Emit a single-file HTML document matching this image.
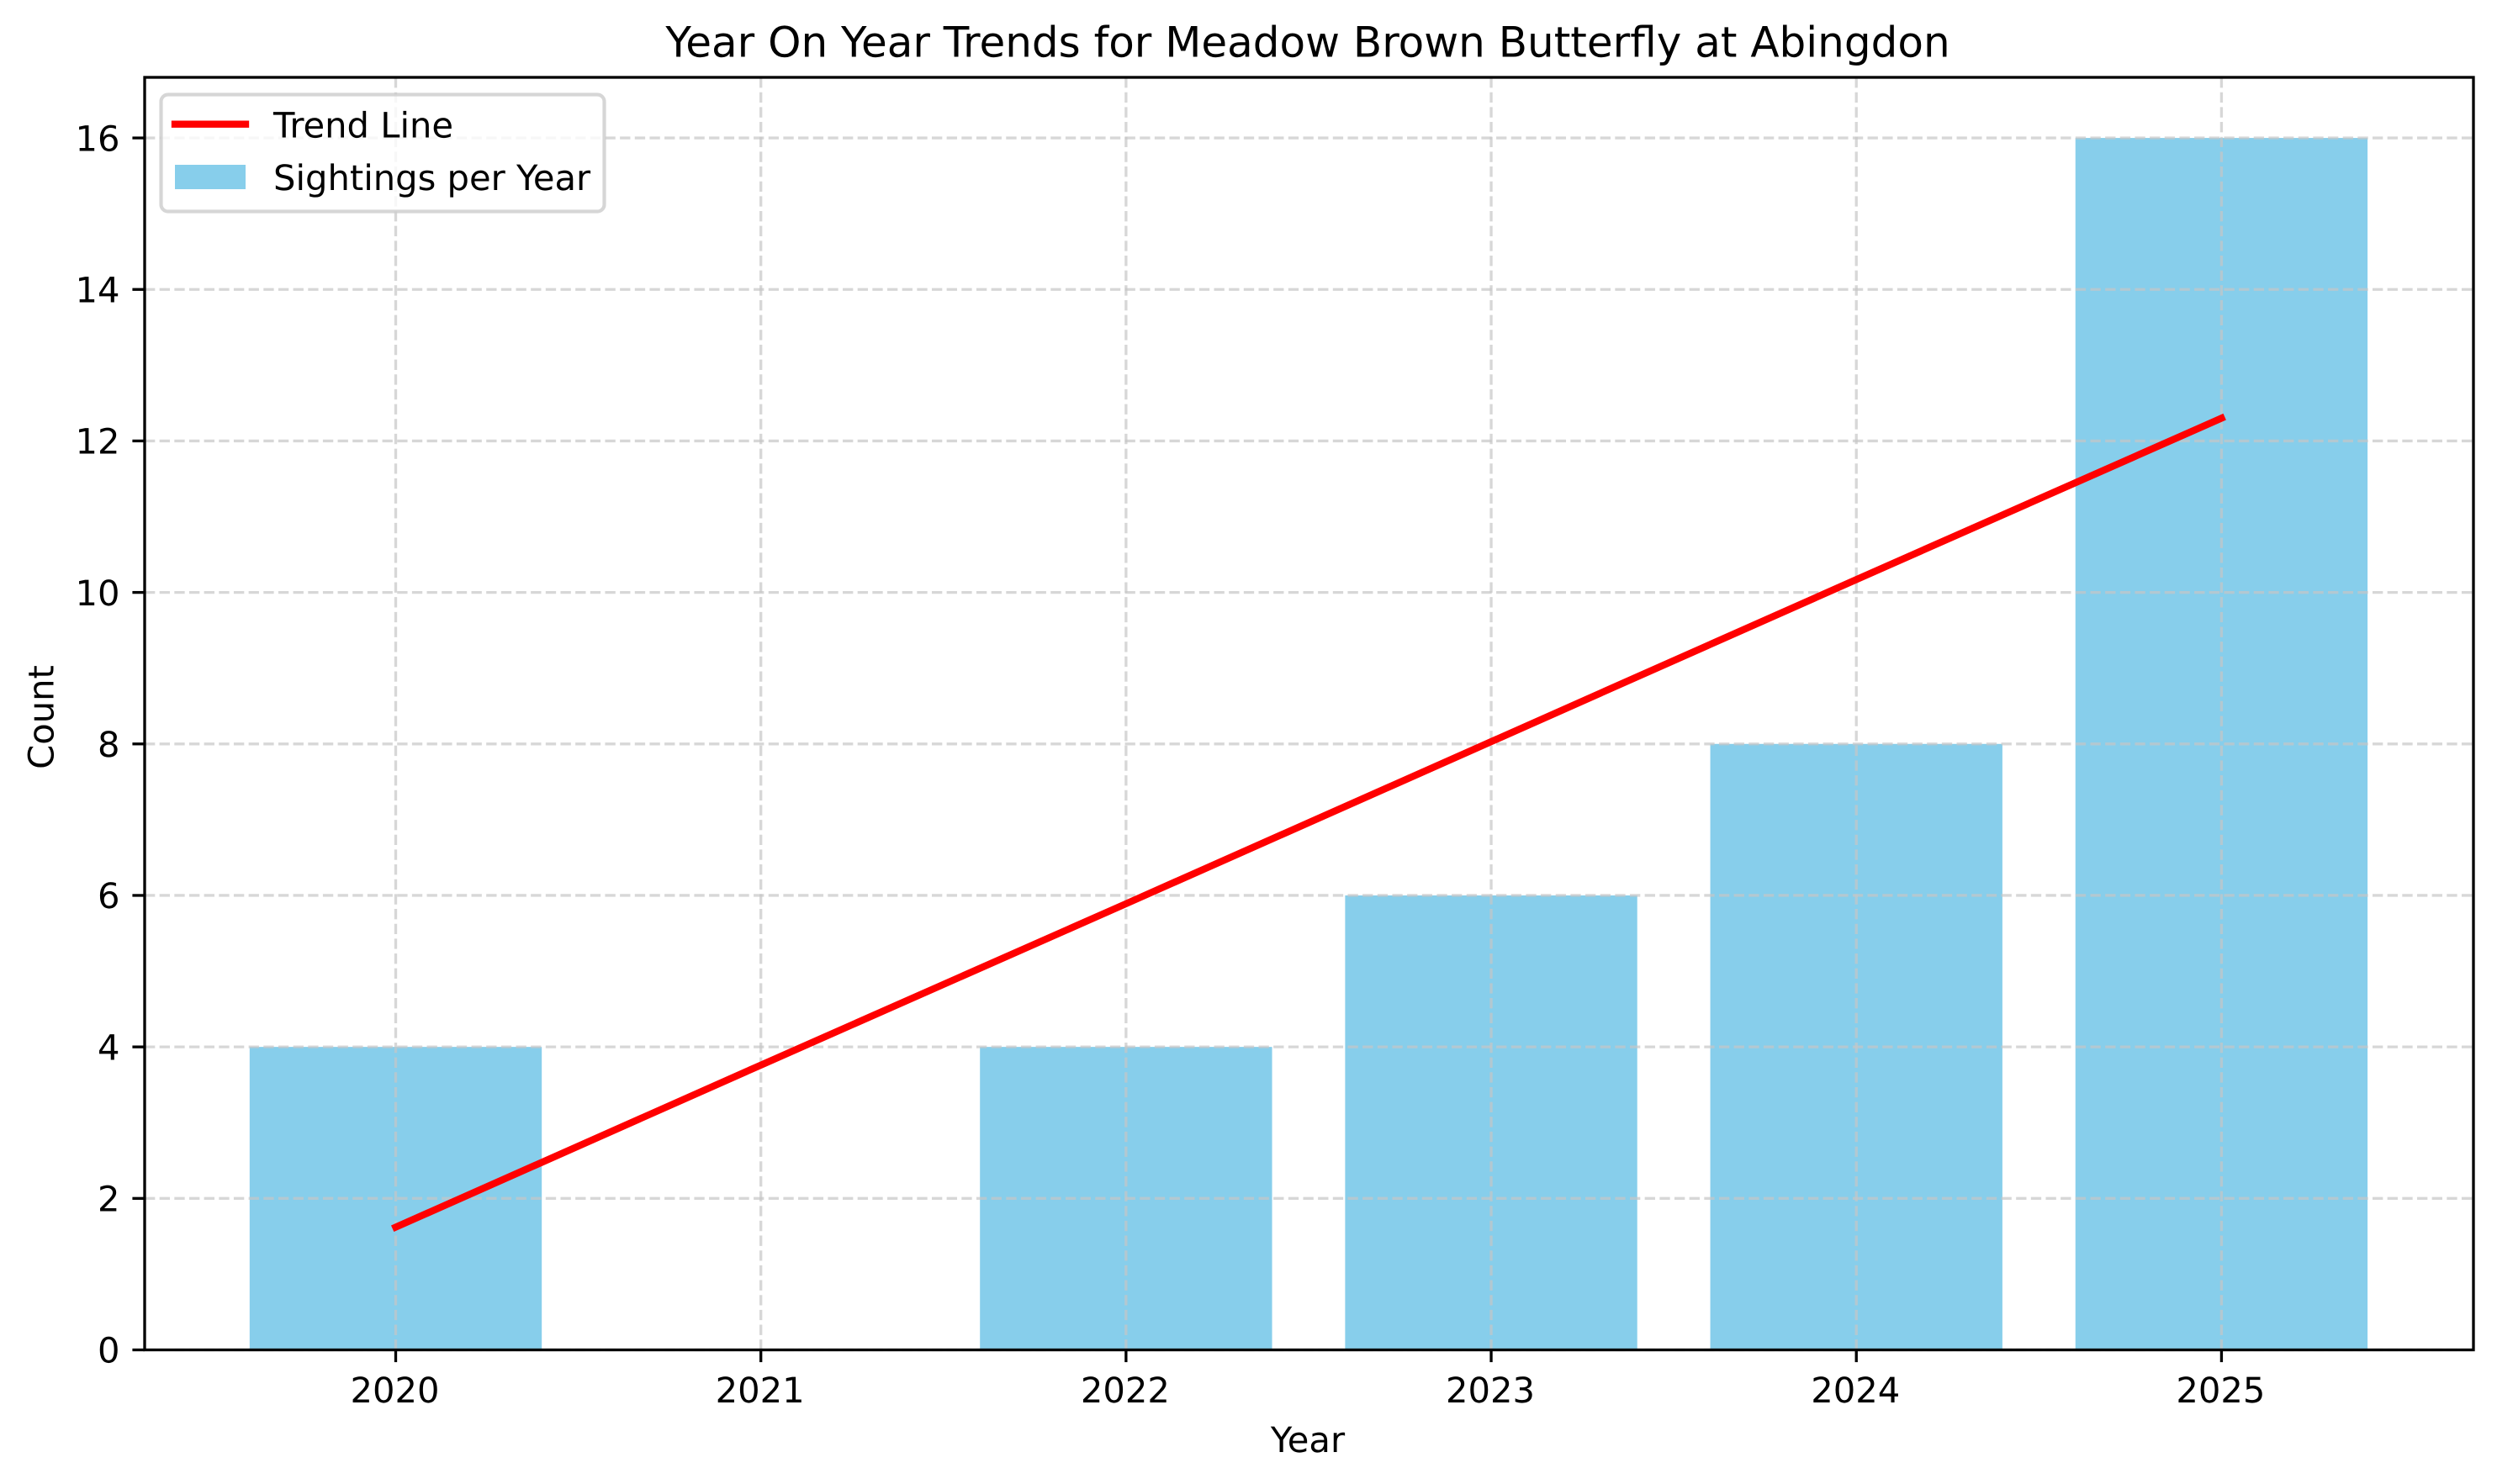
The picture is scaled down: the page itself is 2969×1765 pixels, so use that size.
<!DOCTYPE html>
<html lang="en">
<head>
<meta charset="utf-8">
<title>Year On Year Trends for Meadow Brown Butterfly at Abingdon</title>
<style>
html,body{margin:0;padding:0;background:#fff;width:2969px;height:1765px;overflow:hidden}
svg{display:block}
text{font-family:"DejaVu Sans","Liberation Sans",sans-serif;fill:#000;text-rendering:geometricPrecision}
</style>
</head>
<body>
<svg id="chart" xmlns="http://www.w3.org/2000/svg" width="2969" height="1765" viewBox="0 0 2969 1765">
<rect x="0" y="0" width="2969" height="1765" fill="#ffffff"/>
<text x="1555" y="67.5" font-size="50" text-anchor="middle">Year On Year Trends for Meadow Brown Butterfly at Abingdon</text>
<text x="1555" y="1727" font-size="41.67" text-anchor="middle">Year</text>
<text x="63.5" y="853" font-size="41.67" text-anchor="middle" transform="rotate(-90 63.5 853)">Count</text>
<g id="plot"></g>
<g id="legend">
<rect x="191.5" y="112.5" width="527" height="139" rx="8.3" ry="8.3" fill="#ffffff" fill-opacity="0.8" stroke="#cccccc" stroke-opacity="0.8" stroke-width="4.17"/>
<line x1="208" y1="147.7" x2="292" y2="147.7" stroke="#ff0000" stroke-width="8.33" stroke-linecap="square"/>
<text x="325" y="163.5" font-size="41.67">Trend Line</text>
<rect x="208" y="196" width="84" height="29" fill="#87ceeb"/>
<text x="325" y="226" font-size="41.67">Sightings per Year</text>
</g>
</svg>
<script>
const years = [2020, 2021, 2022, 2023, 2024, 2025];
const sightings = [4, 0, 4, 6, 8, 16];
const trend = [1.62, 3.76, 5.89, 8.03, 10.17, 12.30];
const yTicks = [0, 2, 4, 6, 8, 10, 12, 14, 16];
const xTickLabels = ['2020', '2021', '2022', '2023', '2024', '2025'];
const yTickLabels = ['0', '2', '4', '6', '8', '10', '12', '14', '16'];

const NS = 'http://www.w3.org/2000/svg';
const plot = document.getElementById('plot');
const left = 172, right = 2941, top_ = 92, bottom = 1605.5;
const xMin = 2019.3125, xMax = 2025.69, yMin = 0, yMax = 16.8;
const barWidth = 0.8;

function xScale(v) { return left + (v - xMin) / (xMax - xMin) * (right - left); }
function yScale(v) { return bottom - (v - yMin) / (yMax - yMin) * (bottom - top_); }
function make(tag, attrs) {
  const el = document.createElementNS(NS, tag);
  Object.keys(attrs).forEach(function (k) { el.setAttribute(k, attrs[k]); });
  plot.appendChild(el);
  return el;
}

sightings.forEach(function (v, i) {
  const x0 = xScale(years[i] - barWidth / 2);
  const x1 = xScale(years[i] + barWidth / 2);
  const bar = make('rect', { x: x0, y: yScale(v), width: x1 - x0, height: yScale(0) - yScale(v), fill: '#87ceeb' });
  
  
});

const gridStyle = { stroke: '#c6c6c6', 'stroke-opacity': 0.7, 'stroke-width': 3.33, 'stroke-dasharray': '12.33 5.33' };
years.forEach(function (y) {
  const g = make('line', Object.assign({ x1: xScale(y), y1: bottom, x2: xScale(y), y2: top_ }, gridStyle));
  
  
});
yTicks.forEach(function (v) {
  const g = make('line', Object.assign({ x1: left, y1: yScale(v), x2: right, y2: yScale(v) }, gridStyle));
  
  
});

const trendLine = make('polyline', {
  points: trend.map(function (v, i) { return xScale(years[i]) + ',' + yScale(v); }).join(' '),
  fill: 'none', stroke: '#ff0000', 'stroke-width': 8.33, 'stroke-linecap': 'square', 'stroke-linejoin': 'round'
});



years.forEach(function (y, i) {
  const t = make('line', { x1: xScale(y), y1: bottom, x2: xScale(y), y2: bottom + 14.58, stroke: '#000', 'stroke-width': 3.33 });
  
  
  const l = make('text', { x: xScale(y) - 1, y: 1668, 'font-size': 41.67, 'text-anchor': 'middle' });
  l.textContent = xTickLabels[i];
  
  
});
yTicks.forEach(function (v, i) {
  const t = make('line', { x1: left - 14.58, y1: yScale(v), x2: left, y2: yScale(v), stroke: '#000', 'stroke-width': 3.33 });
  
  
  const l = make('text', { x: left - 29.5, y: yScale(v) + 15.2, 'font-size': 41.67, 'text-anchor': 'end' });
  l.textContent = yTickLabels[i];
  
  
});

const frame = make('rect', { x: left, y: top_, width: right - left, height: bottom - top_, fill: 'none', stroke: '#000', 'stroke-width': 3.33, 'stroke-linejoin': 'miter' });


</script>
</body>
</html>
